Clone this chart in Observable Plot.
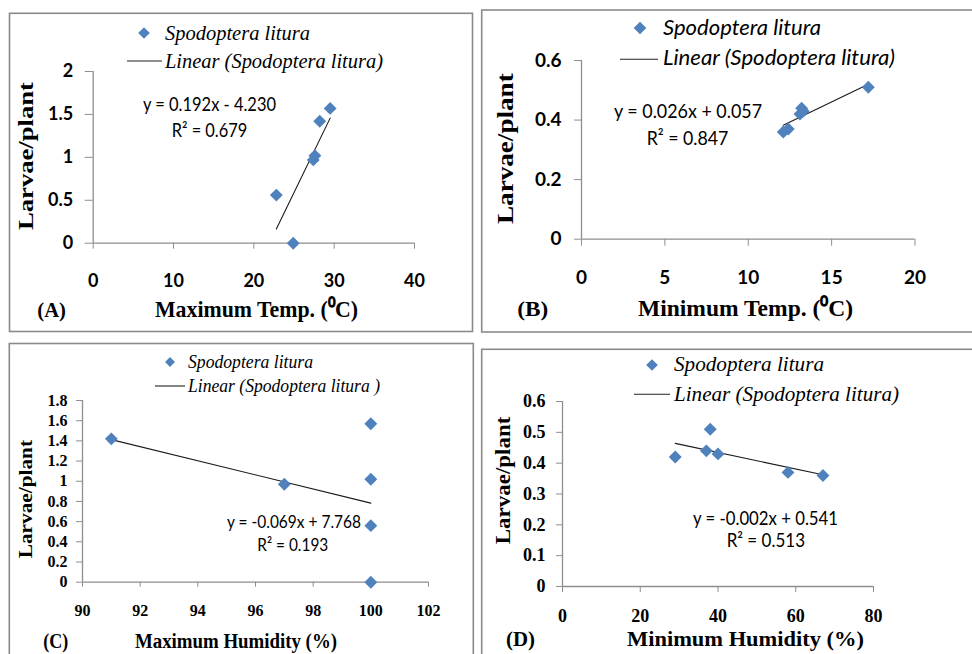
<!DOCTYPE html>
<html>
<head>
<meta charset="utf-8">
<script src="https://cdn.jsdelivr.net/npm/d3@7"></script>
<script src="https://cdn.jsdelivr.net/npm/@observablehq/plot@0.6"></script>
<style>
  html, body { margin: 0; padding: 0; background: #fff; }
  #root { position: relative; width: 972px; height: 654px; overflow: hidden; background: #fff; }
  #overlay { position: absolute; left: 0; top: 0; pointer-events: none; }
  svg.pA text { font-family: Lato, 'Open Sans', sans-serif !important; font-weight: bold !important; font-size: 18px !important; }
  svg.pB text { font-family: Lato, 'Open Sans', sans-serif !important; font-weight: bold !important; font-size: 19px !important; }
  svg.pC text { font-family: 'Liberation Serif', serif !important; font-weight: bold !important; font-size: 16px !important; }
  svg.pD text { font-family: 'Liberation Serif', serif !important; font-weight: bold !important; font-size: 18px !important; }
</style>
</head>
<body>
<div id="root"></div>
<script>
// ---- Data ----
const seriesName = "Spodoptera litura";

const maxTempX = [22.8, 24.9, 27.4, 27.6, 28.2, 29.5];
const maxTempY = [0.56, 0.00, 0.97, 1.02, 1.42, 1.57];

const minTempX = [12.1, 12.4, 13.1, 13.3, 13.2, 17.2];
const minTempY = [0.36, 0.37, 0.42, 0.43, 0.44, 0.51];

const maxHumX = [91, 97, 100, 100, 100, 100];
const maxHumY = [1.42, 0.97, 1.57, 1.02, 0.56, 0.00];

const minHumX = [29, 37, 38, 40, 58, 67];
const minHumY = [0.42, 0.44, 0.51, 0.43, 0.37, 0.36];

const ticksAx = [0, 10, 20, 30, 40];
const ticksAy = [0, 0.5, 1, 1.5, 2];
const ticksBx = [0, 5, 10, 15, 20];
const ticksBy = [0, 0.2, 0.4, 0.6];
const ticksCx = [90, 92, 94, 96, 98, 100, 102];
const ticksCy = [0, 0.2, 0.4, 0.6, 0.8, 1, 1.2, 1.4, 1.6, 1.8];
const ticksDx = [0, 20, 40, 60, 80];
const ticksDy = [0, 0.1, 0.2, 0.3, 0.4, 0.5, 0.6];

const equations = ["y = 0.192x - 4.230", "y = 0.026x + 0.057", "y = -0.069x + 7.768", "y = -0.002x + 0.541"];
const rSquared = ["0.679", "0.847", "0.193", "0.513"];
const xTitles = ["Maximum Temp. (⁰C)", "Minimum Temp. (⁰C)", "Maximum Humidity (%)", "Minimum Humidity (%)"];
const yTitle = "Larvae/plant";
const panelLabels = ["(A)", "(B)", "(C)", "(D)"];
const legendLine = ["Linear (Spodoptera litura)", "Linear (Spodoptera litura)", "Linear (Spodoptera litura )", "Linear (Spodoptera litura)"];

// ---- Styling constants ----
const SERIF = "'Liberation Serif', 'Times New Roman', serif";
const SANS = "Lato, 'Open Sans', sans-serif";
const BLUE = "#4F81BD";
const AXIS = "#8e8e8e";

const root = document.getElementById("root");

function panel(cfg) {
  const data = cfg.xs.map((x, i) => ({x, y: cfg.ys[i]}));
  const svg = Plot.plot({
    className: cfg.cls,
    width: cfg.W, height: cfg.H,
    marginLeft: cfg.mL, marginRight: cfg.mR, marginTop: cfg.mT, marginBottom: cfg.mB,
    x: {domain: cfg.xDomain, label: null},
    y: {domain: cfg.yDomain, label: null},
    style: {
      position: "absolute", left: cfg.L + "px", top: cfg.T + "px",
      background: "transparent", overflow: "visible", color: "black"
    },
    marks: [
      Plot.ruleY([cfg.yDomain[0]], {stroke: AXIS, strokeWidth: 1.3}),
      Plot.ruleX([cfg.xDomain[0]], {stroke: AXIS, strokeWidth: 1.3}),
      Plot.axisX(cfg.xTicks, {tickSize: cfg.xts, tickPadding: cfg.xtp, tickFormat: d => String(d),
        stroke: AXIS, fill: "black", label: null}),
      Plot.axisY(cfg.yTicks, {tickSize: cfg.yts, tickPadding: cfg.ytp, tickFormat: d => String(d),
        stroke: AXIS, fill: "black", label: null}),
      Plot.linearRegressionY(data, {x: "x", y: "y", ci: 0, stroke: "#1a1a1a", strokeWidth: 1.1}),
      Plot.dot(data, {x: "x", y: "y", symbol: "diamond2", r: 5.8, fill: BLUE, stroke: "none"})
    ]
  });
  svg.classList.add(cfg.cls);
  root.appendChild(svg);
}

panel({cls: "pA", L: 10, T: 14, W: 460, H: 316, mL: 82.7, mR: 56, mT: 57, mB: 87.3,
  xs: maxTempX, ys: maxTempY, xDomain: [0, 40], yDomain: [0, 2], xTicks: ticksAx, yTicks: ticksAy,
  xts: 6, xtp: 25, yts: 8, ytp: 12});
panel({cls: "pB", L: 483, T: 11, W: 489, H: 320, mL: 98, mR: 57.5, mT: 49, mB: 92.3,
  xs: minTempX, ys: minTempY, xDomain: [0, 20], yDomain: [0, 0.6], xTicks: ticksBx, yTicks: ticksBy,
  xts: 7, xtp: 24, yts: 7, ytp: 13});
panel({cls: "pC", L: 10, T: 345, W: 462, H: 309, mL: 72, mR: 44, mT: 55, mB: 72.3,
  xs: maxHumX, ys: maxHumY, xDomain: [90, 102], yDomain: [0, 1.8], xTicks: ticksCx, yTicks: ticksCy,
  xts: 5, xtp: 17, yts: 6, ytp: 9});
panel({cls: "pD", L: 483, T: 350, W: 489, H: 304, mL: 79, mR: 99, mT: 51, mB: 68,
  xs: minHumX, ys: minHumY, xDomain: [0, 80], yDomain: [0, 0.6], xTicks: ticksDx, yTicks: ticksDy,
  xts: 6, xtp: 17, yts: 6, ytp: 11});

// ---- Overlay: panel frames, legends, annotations, titles ----
const ov = d3.select(root).append("svg").attr("id", "overlay").attr("width", 972).attr("height", 654);

[[9.5, 13.3, 463, 318.2], [481.7, 10, 520, 322], [9.3, 343.5, 464, 330], [481.7, 349.3, 520, 330]].forEach(([x, y, w, h]) => {
  ov.append("rect").attr("x", x).attr("y", y).attr("width", w).attr("height", h)
    .attr("fill", "none").attr("stroke", "#8a8a8a").attr("stroke-width", 1.6);
});

function txt(x, y, str, o) {
  const t = ov.append("text").attr("x", x).attr("y", y)
    .attr("font-family", o.family).attr("font-size", o.size)
    .attr("font-weight", o.weight || "normal").attr("font-style", o.style || "normal")
    .attr("fill", "black").text(str);
  if (o.len) t.attr("textLength", o.len).attr("lengthAdjust", "spacingAndGlyphs");
  return t;
}
function ytitle(x, y, len, size) {
  ov.append("text").attr("transform", `translate(${x},${y}) rotate(-90)`)
    .attr("font-family", SERIF).attr("font-size", size).attr("font-weight", "bold")
    .attr("textLength", len).attr("lengthAdjust", "spacingAndGlyphs").text(yTitle);
}
function legend(dx, dy, half, lx1, lx2, ly) {
  ov.append("path").attr("d", `M${dx},${dy - half}L${dx + half},${dy}L${dx},${dy + half}L${dx - half},${dy}Z`).attr("fill", BLUE);
  ov.append("line").attr("x1", lx1).attr("x2", lx2).attr("y1", ly).attr("y2", ly).attr("stroke", "#222").attr("stroke-width", 1.1);
}

// Panel A
legend(144, 33, 5.8, 127, 162, 61);
txt(165, 40, seriesName, {family: SERIF, size: 21, style: "italic", len: 145});
txt(165, 68.3, legendLine[0], {family: SERIF, size: 21, style: "italic", len: 218});
txt(143, 111, equations[0], {family: SANS, size: 19, len: 133});
txt(171.7, 137.3, "R² = " + rSquared[0], {family: SANS, size: 19, len: 75.6});
txt(155, 316.7, xTitles[0], {family: SERIF, size: 24, weight: "bold", len: 203});
txt(37.3, 316.7, panelLabels[0], {family: SERIF, size: 22, weight: "bold", len: 28.7});
ytitle(33.3, 230, 148, 22);

// Panel B
legend(640, 28, 6.3, 620, 658, 59.3);
txt(663, 35, seriesName, {family: SANS, size: 21, style: "italic", len: 158});
txt(663, 65, legendLine[1], {family: SANS, size: 21, style: "italic", len: 232});
txt(614, 118.3, equations[1], {family: SANS, size: 20, len: 148});
txt(646.7, 145, "R² = " + rSquared[1], {family: SANS, size: 20, len: 81.7});
txt(638, 316, xTitles[1], {family: SERIF, size: 24, weight: "bold", len: 215});
txt(517.3, 316, panelLabels[1], {family: SERIF, size: 22, weight: "bold", len: 31});
ytitle(513.3, 224, 150.7, 23);

// Panel C
legend(170, 362, 5, 155, 185, 386);
txt(188, 368.3, seriesName, {family: SERIF, size: 18, style: "italic", len: 125});
txt(188, 391.7, legendLine[2], {family: SERIF, size: 18, style: "italic", len: 192});
txt(227, 528.3, equations[2], {family: SANS, size: 18, len: 134});
txt(257.3, 550.7, "R² = " + rSquared[2], {family: SANS, size: 18, len: 71});
txt(135, 648.3, xTitles[2], {family: SERIF, size: 20, weight: "bold", len: 202});
txt(43.3, 648.3, panelLabels[2], {family: SERIF, size: 20, weight: "bold", len: 25});
ytitle(32, 558.3, 118.3, 19);

// Panel D
legend(652, 365, 5.8, 634, 670, 394.3);
txt(674, 371, seriesName, {family: SERIF, size: 20, style: "italic", len: 150});
txt(674, 401, legendLine[3], {family: SERIF, size: 20, style: "italic", len: 225});
txt(693, 525, equations[3], {family: SANS, size: 19, len: 145});
txt(726.7, 546.7, "R² = " + rSquared[3], {family: SANS, size: 19, len: 78.3});
txt(627, 645.5, xTitles[3], {family: SERIF, size: 20, weight: "bold", len: 237});
txt(506, 645.5, panelLabels[3], {family: SERIF, size: 21, weight: "bold", len: 29});
ytitle(510, 544.3, 127.7, 21);
</script>
</body>
</html>
